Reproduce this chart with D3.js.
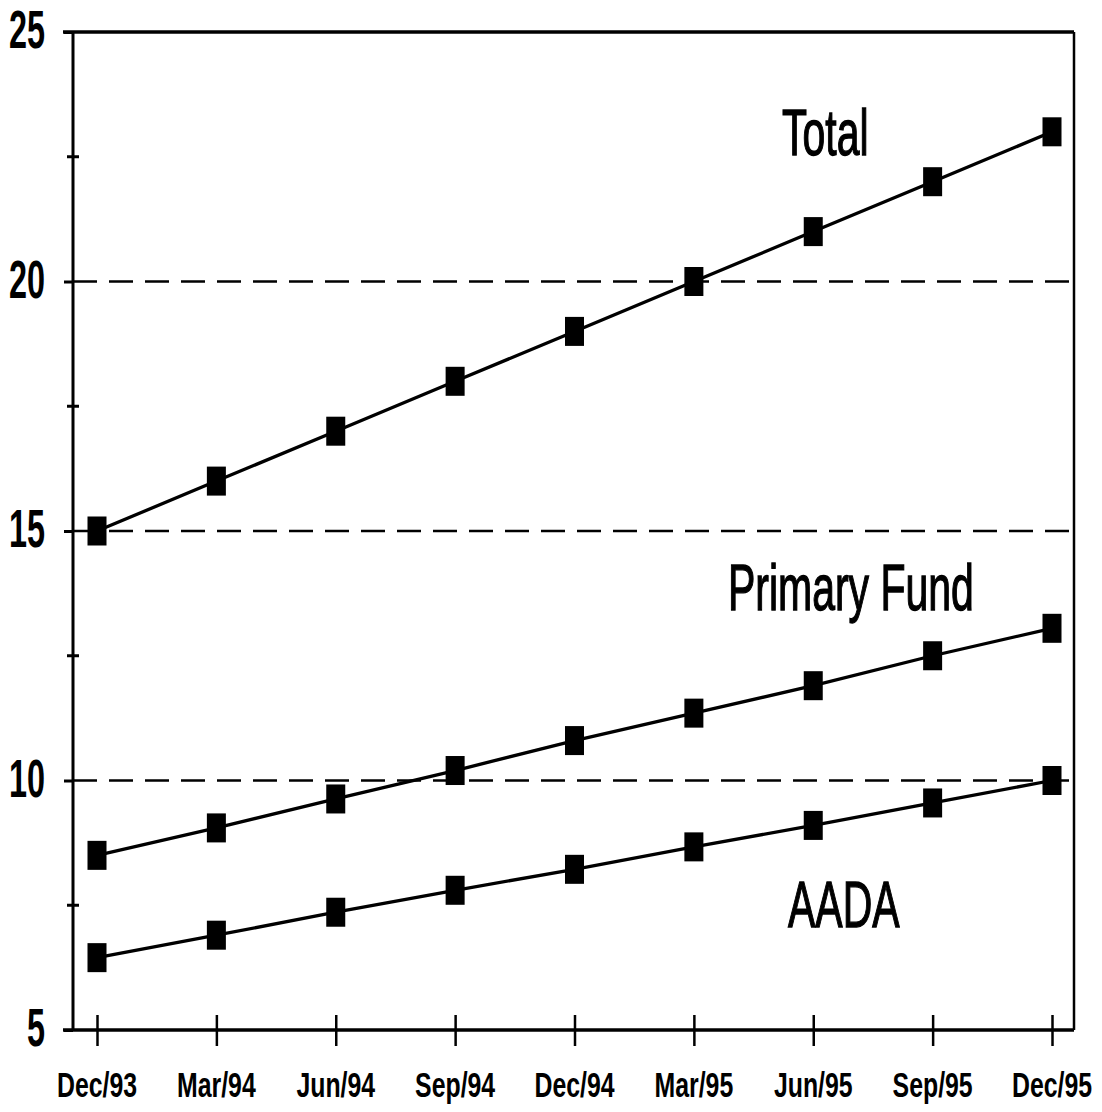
<!DOCTYPE html>
<html><head><meta charset="utf-8">
<script src="https://cdn.jsdelivr.net/npm/d3@7"></script>
<style>
body{margin:0;background:#fff;}
text{font-family:"Liberation Sans",Arial,sans-serif;fill:#000;}
</style></head><body>
<svg id="c" width="1102" height="1112"></svg>
<script>
const categories = ["Dec/93","Mar/94","Jun/94","Sep/94","Dec/94","Mar/95","Jun/95","Sep/95","Dec/95"];
const totalValues = [15,16,17,18,19,20,21,22,23];
const primaryValues = [8.5,9.05,9.63,10.2,10.8,11.35,11.9,12.5,13.05];
const aadaValues = [6.45,6.9,7.36,7.8,8.22,8.67,9.1,9.55,10.0];
const yTicks = [5,10,15,20,25];
const yMinorTicks = [7.5,12.5,17.5,22.5];
const gridValues = [10,15,20];
const seriesNames = ["Total","Primary Fund","AADA"];

const svg = d3.select("#c");
const L=73, R=1074, T=32, B=1030;
const x = d3.scalePoint().domain(categories).range([97,1052]);
const y = d3.scaleLinear().domain([5,25]).range([B,T]);

// gridlines
svg.append("g").selectAll("line").data(gridValues).join("line")
  .attr("x1",L).attr("x2",R).attr("y1",d=>y(d)).attr("y2",d=>y(d))
  .attr("stroke","#000").attr("stroke-width",2.3).attr("stroke-dasharray","24,12");

// frame
svg.append("line").attr("x1",L-10).attr("x2",R).attr("y1",T).attr("y2",T).attr("stroke","#000").attr("stroke-width",3.5);
svg.append("line").attr("x1",R).attr("x2",R).attr("y1",T).attr("y2",B).attr("stroke","#000").attr("stroke-width",2.5);

// y axis (ticks via axis, labels condensed)
const yAxis = d3.axisLeft(y).tickValues(yTicks).tickSize(9).tickFormat("");
const gy = svg.append("g").attr("transform",`translate(${L},0)`).call(yAxis);
gy.select(".domain").attr("d",`M0,${T}V${B}`).attr("stroke-width",3);
gy.selectAll(".tick line").attr("stroke-width",3);
svg.append("g").selectAll("g").data(yTicks).join("g")
  .attr("transform",d=>`translate(45,${y(d)+16}) scale(0.6,1)`)
  .append("text").attr("text-anchor","end")
  .style("font-size","54px").style("font-weight","bold")
  .text(d=>d3.format("d")(d));
svg.append("g").selectAll("line").data(yMinorTicks).join("line")
  .attr("x1",L-6).attr("x2",L+6).attr("y1",d=>y(d)).attr("y2",d=>y(d))
  .attr("stroke","#000").attr("stroke-width",3);

// x axis
const xAxis = d3.axisBottom(x).tickSize(16).tickFormat("").tickSizeOuter(0);
const gx = svg.append("g").attr("transform",`translate(0,${B})`).call(xAxis);
gx.select(".domain").attr("d",`M${L-10},0H${R}`).attr("stroke-width",3.5);
gx.selectAll(".tick line").attr("y1",-15).attr("y2",16).attr("stroke-width",2.5);
svg.append("g").selectAll("g").data(categories).join("g")
  .attr("transform",d=>`translate(${x(d)},1097) scale(0.71,1)`)
  .append("text").attr("text-anchor","middle")
  .style("font-size","35px").style("font-weight","bold")
  .text(d=>d);

// lines
const line = d3.line().x((d,i)=>x(categories[i])).y(d=>y(d));
const allSeries = [totalValues, primaryValues, aadaValues];
svg.append("g").selectAll("path").data(allSeries).join("path")
  .attr("d",line).attr("fill","none").attr("stroke","#000").attr("stroke-width",3.3);

// markers
const mw=19, mh=29;
allSeries.forEach(s=>{
  svg.append("g").selectAll("rect").data(s).join("rect")
    .attr("x",(d,i)=>x(categories[i])-mw/2).attr("y",d=>y(d)-mh/2)
    .attr("width",mw).attr("height",mh).attr("fill","#000");
});

// series labels
const labelPos = [[782,155],[728,610],[788,927]];
svg.append("g").selectAll("g").data(seriesNames).join("g")
  .attr("transform",(d,i)=>`translate(${labelPos[i][0]},${labelPos[i][1]}) scale(0.64,1)`)
  .append("text").attr("text-anchor","start")
  .style("font-size","64px")
  .attr("stroke","#000").attr("stroke-width",1.3)
  .text(d=>d);
</script></body></html>
